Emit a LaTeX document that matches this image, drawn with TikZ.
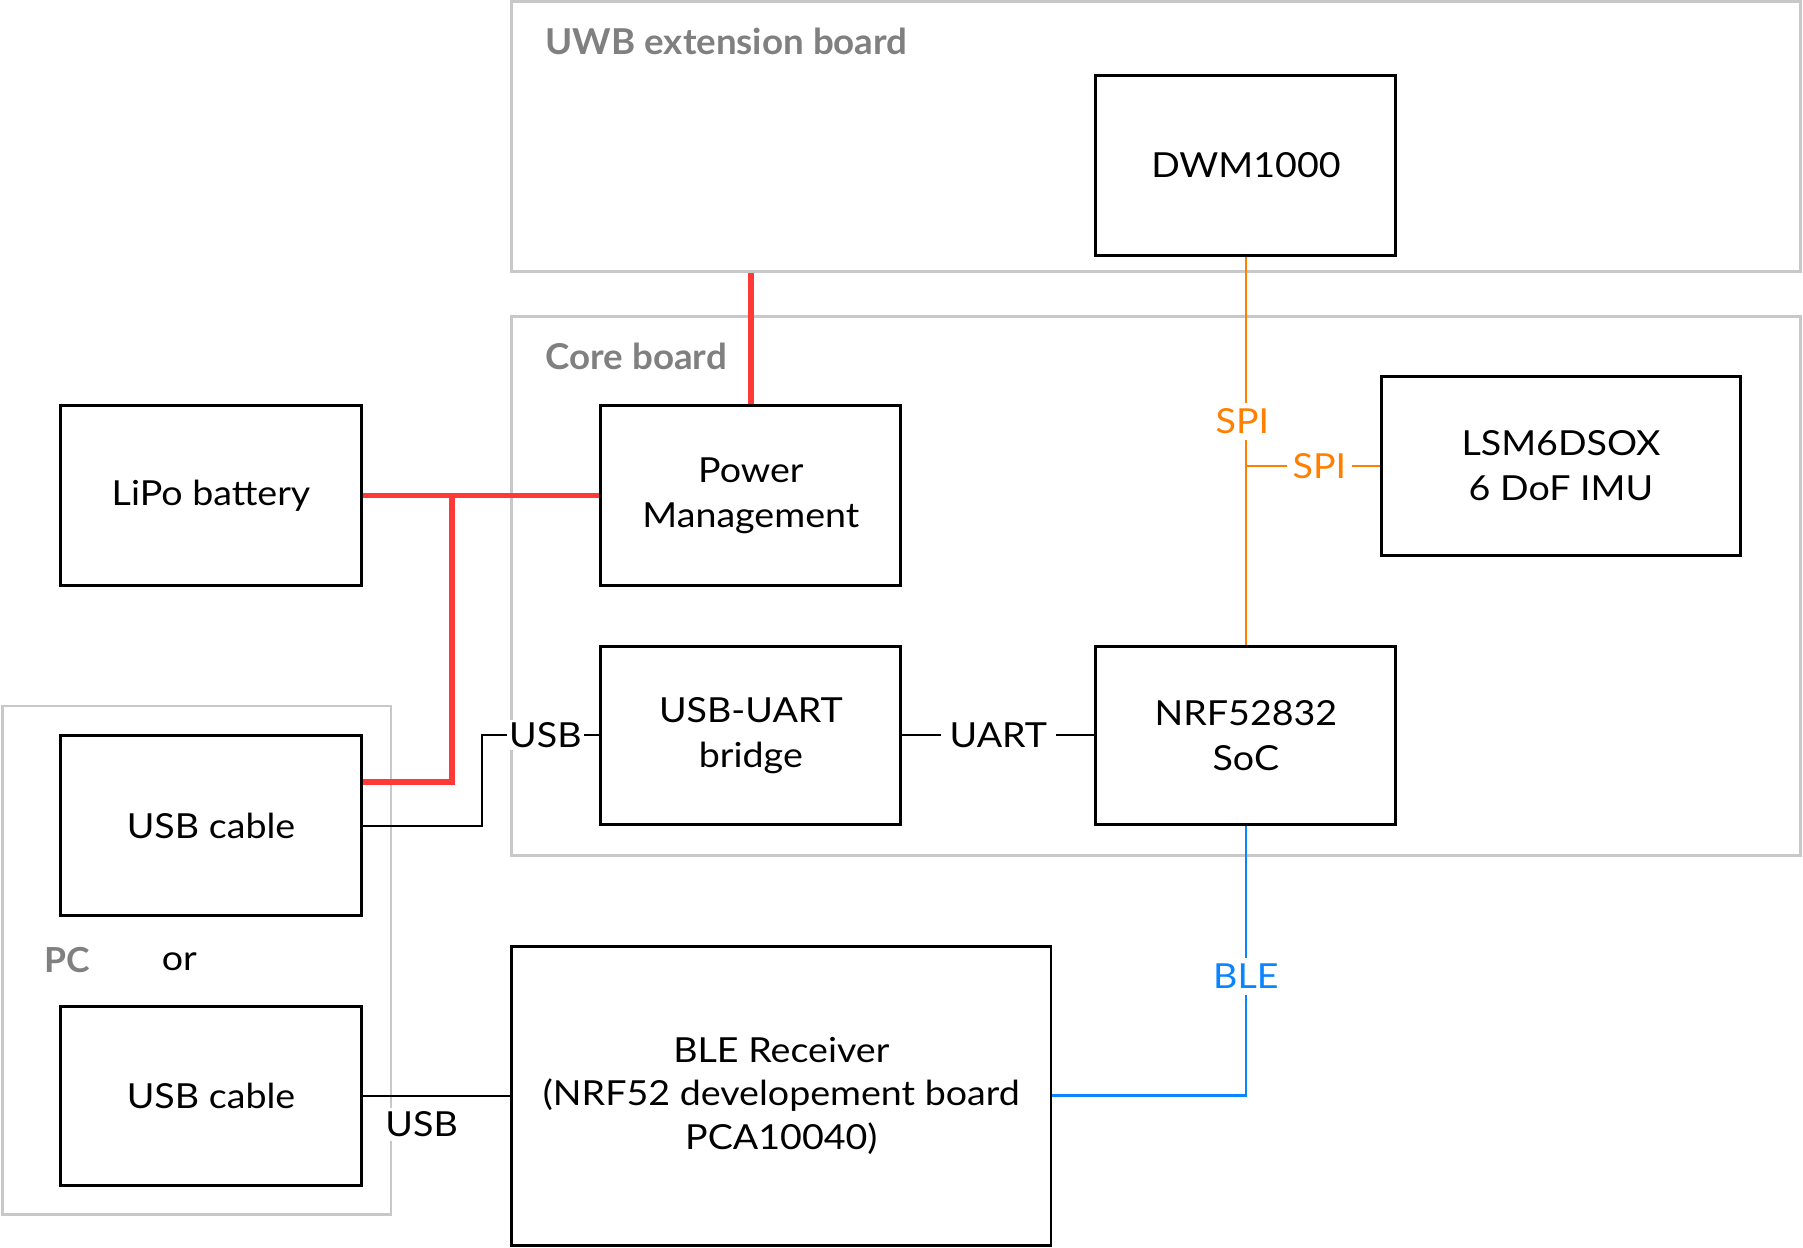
\documentclass[tikz,border=0pt]{standalone}
\usepackage{fontspec}
\setmainfont{Lato}[FakeStretch=1.09]
\newfontfamily\titlefont{Lato}[FakeStretch=1.03]
\definecolor{framegray}{RGB}{200,200,200}
\definecolor{titlegray}{RGB}{128,128,128}
\definecolor{pwrred}{RGB}{255,56,56}
\definecolor{spiorange}{RGB}{255,128,0}
\definecolor{bleblue}{RGB}{10,132,255}
\begin{document}
\begin{tikzpicture}[x=0.5pt,y=-0.5pt,
  txt/.style={font=\fontsize{15}{19.5}\selectfont},
  box/.style={draw=black, line width=1.3pt, fill=white, align=center, inner sep=0pt,
    minimum width=130.5pt, minimum height=78pt, txt},
  frame/.style={draw=framegray, line width=1.25pt, inner sep=0pt},
  title/.style={text=titlegray, font=\titlefont\fontsize{15.5}{19}\selectfont\bfseries, anchor=west, inner sep=0pt},
  conn/.style={draw=black, line width=0.9pt},
  pwr/.style={draw=pwrred, line width=2.4pt},
  spi/.style={draw=spiorange, line width=1pt},
  blel/.style={draw=bleblue, line width=1.2pt},
  lbl/.style={fill=white, inner sep=2.5pt, txt}
]
\useasboundingbox (0,0) rectangle (1568,1085.3);
% frames
\node[frame, minimum width=560.5pt, minimum height=117.5pt] (uwb) at (1005.5,118.5) {};
\node[frame, minimum width=560.5pt, minimum height=234.5pt] (core) at (1005.5,509.5) {};
\node[frame, minimum width=169pt, minimum height=221pt] (pc) at (171,835) {};
\node[title] (uwbt) at (474,36) {UWB extension board};
\node[title] (coret) at (474,310) {Core board};
\node[title, font=\titlefont\fontsize{15}{19}\selectfont\bfseries] (pct) at (38,835) {PC};
\node[txt, inner sep=0pt] (or) at (156,836) {or};
% boxes
\node[box] (dwm) at (1083.5,144) {DWM1000};
\node[box] (pm) at (653,431) {Power\\Management};
\node[box] (lipo) at (183.5,431) {LiPo battery};
\node[box, minimum width=156.5pt] (imu) at (1357.5,405) {LSM6DSOX\\6 DoF IMU};
\node[box, minimum height=77.5pt] (bridge) at (653,639.5) {USB-UART\\bridge};
\node[box, minimum height=77.5pt] (nrf) at (1083.5,639.5) {NRF52832\\SoC};
\node[box] (usb1) at (183.5,718) {USB cable};
\node[box] (usb2) at (183.5,953) {USB cable};
\node[box, minimum width=234.5pt, minimum height=130pt, font=\fontsize{15}{18.75}\selectfont] (ble) at (679.5,953) {BLE Receiver\\(NRF52 developement board\\PCA10040)};
% power
\draw[pwr] (pm.north) -- (pm.north |- uwb.south);
\draw[pwr] (lipo.east) -- (pm.west);
\coordinate (j) at (393,431);
\draw[pwr] (j) |- ([yshift=19pt]usb1.east);
% usb / uart
\draw[conn] (usb1.east) -- ++(52pt,0) |- node[lbl, pos=0.77, inner sep=1pt] {USB} (bridge.west);
\draw[conn] (bridge.east) -- node[lbl, inner xsep=4pt] {UART} (nrf.west);
% spi
\draw[spi] (dwm.south) -- node[lbl, text=spiorange, pos=0.424, xshift=-1.5pt] {SPI} (nrf.north);
\coordinate (b) at (dwm.south |- imu.west);
\draw[spi] (b) -- node[lbl, text=spiorange, pos=0.55] {SPI} (imu.west);
% ble
\draw[blel] (nrf.south) |- node[lbl, text=bleblue, pos=0.279] {BLE} (ble.east);
\draw[conn] (usb2.east) -- node[lbl, pos=0.4, below=5pt, inner sep=1.5pt] {USB} (ble.west);
\end{tikzpicture}
\end{document}
